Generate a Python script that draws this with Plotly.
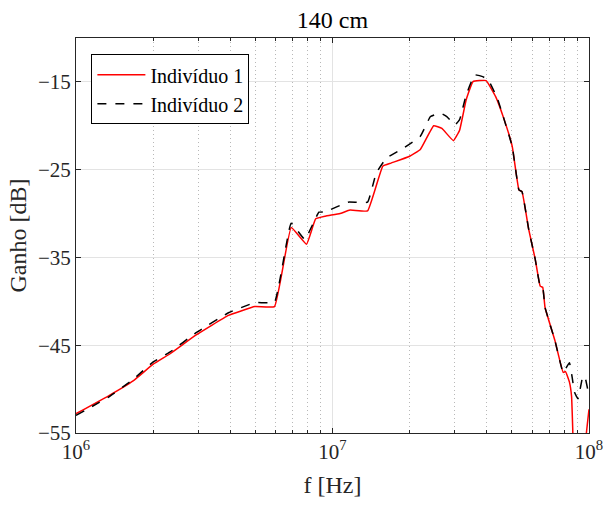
import plotly.graph_objects as go

f1 = [1e6, 1.34e6, 1.67e6, 2.0e6, 2.32e6, 2.93e6, 3.93e6, 4.98e6, 5.94e6, 6.9e6, 7.92e6,
      8.6e6, 9.37e6, 1.07e7, 1.17e7, 1.37e7, 1.57e7, 1.69e7, 1.99e7, 2.2e7, 2.48e7, 2.67e7,
      2.96e7, 3.13e7, 3.32e7, 3.53e7, 3.97e7, 4.33e7, 4.67e7, 5.02e7, 5.33e7, 5.48e7, 5.82e7,
      6.17e7, 6.45e7, 6.6e7, 6.74e7, 7.37e7, 7.93e7, 8.1e7, 8.39e7, 8.55e7, 8.64e7, 8.7e7,
      9.3e7, 9.73e7, 1e8]
g1 = [-52.8, -50.76, -49.06, -47.16, -46.0, -43.86, -41.6, -40.6, -40.6, -31.6, -33.5,
      -30.6, -30.3, -30.0, -29.6, -29.7, -24.6, -24.25, -23.5, -22.7, -20.0, -20.3,
      -21.7, -20.5, -17.05, -14.97, -14.85, -16.7, -19.3, -22.35, -27.3, -27.5, -31.8,
      -35.2, -38.26, -38.4, -40.7, -44.5, -48.1, -48.0, -49.2, -50.8, -54.5, -58.0,
      -64.0, -55.5, -52.3]

f2 = [1e6, 1.34e6, 1.67e6, 2.0e6, 2.32e6, 2.93e6, 3.93e6, 4.98e6, 5.94e6, 6.9e6, 7.8e6,
      8.85e6, 9.37e6, 1.15e7, 1.37e7, 1.48e7, 1.62e7, 1.9e7, 2.2e7, 2.41e7, 2.63e7, 2.79e7,
      3.0e7, 3.13e7, 3.32e7, 3.58e7, 3.85e7, 4.05e7, 4.39e7, 4.67e7, 5.02e7, 5.33e7, 5.48e7,
      5.82e7, 6.17e7, 6.45e7, 6.6e7, 6.74e7, 7.37e7, 7.93e7, 8.39e7, 8.79e7, 9.06e7, 9.47e7,
      9.7e7, 1e8]
g2 = [-53.0, -50.9, -48.9, -46.9, -45.8, -43.6, -41.3, -40.15, -40.1, -31.1, -32.95,
      -29.85, -29.8, -28.7, -28.7, -25.4, -23.7, -22.5, -21.2, -18.95, -18.55, -18.95,
      -19.9, -19.3, -16.5, -14.2, -14.4, -14.8, -16.85, -19.3, -22.35, -27.3, -27.5,
      -31.8, -35.2, -38.26, -38.4, -40.7, -44.5, -48.1, -47.0, -50.4, -51.1, -48.5,
      -48.9, -50.8]

y_ticks = [-55, -45, -35, -25, -15]
x_ticks = [1e6, 1e7, 1e8]
x_ticktext = ["10<sup>6</sup>", "10<sup>7</sup>", "10<sup>8</sup>"]
x_minor = [m * 10**e for e in (6, 7) for m in range(2, 10)]

font = "Liberation Serif"

fig = go.Figure()
fig.add_trace(go.Scatter(x=f1, y=g1, mode="lines", name="Indivíduo 1",
                         line=dict(color="#ff0000", width=1.5, shape="spline", smoothing=0.3)))
fig.add_trace(go.Scatter(x=f2, y=g2, mode="lines", name="Indivíduo 2",
                         line=dict(color="#000000", width=1.5, dash="dash", shape="spline", smoothing=0.3)))

fig.update_layout(
    width=615, height=505,
    margin=dict(l=76, r=17, t=38, b=71),
    paper_bgcolor="white", plot_bgcolor="white",
    font=dict(family=font, size=20, color="#262626"),
    title=dict(text="140 cm", x=0.5, xref="paper", xanchor="center", y=0.962, yanchor="middle",
               font=dict(family=font, size=24, color="#000000")),
    legend=dict(x=0.03, y=0.959, xanchor="left", yanchor="top",
                bgcolor="white", bordercolor="#000000", borderwidth=1,
                font=dict(family=font, size=20, color="#000000"),
                tracegroupgap=0, itemwidth=48),
    showlegend=True,
)

fig.update_xaxes(
    type="log", range=[6, 8],
    tickmode="array", tickvals=x_ticks, ticktext=x_ticktext,
    ticks="inside", ticklen=5, tickcolor="#262626",
    showline=True, linecolor="#262626", linewidth=1, mirror="allticks",
    showgrid=True, gridcolor="#e3e3e3", gridwidth=1,
    minor=dict(tickmode="array", tickvals=x_minor, ticks="inside", ticklen=3,
               tickcolor="#262626", showgrid=True, gridcolor="#b8b8b8", griddash="1px,3px", gridwidth=1),
    title=dict(text="f [Hz]", font=dict(family=font, size=24, color="#262626"), standoff=12),
    tickfont=dict(family=font, size=21, color="#262626"),
    zeroline=False,
)
fig.update_yaxes(
    range=[-55, -10],
    tickmode="array", tickvals=y_ticks,
    ticks="inside", ticklen=5, tickcolor="#262626",
    showline=True, linecolor="#262626", linewidth=1, mirror="allticks",
    showgrid=True, gridcolor="#e3e3e3", gridwidth=1,
    title=dict(text="Ganho [dB]", font=dict(family=font, size=24, color="#262626"), standoff=4),
    tickfont=dict(family=font, size=21, color="#262626"),
    zeroline=False,
)

fig.write_html("out.html")
